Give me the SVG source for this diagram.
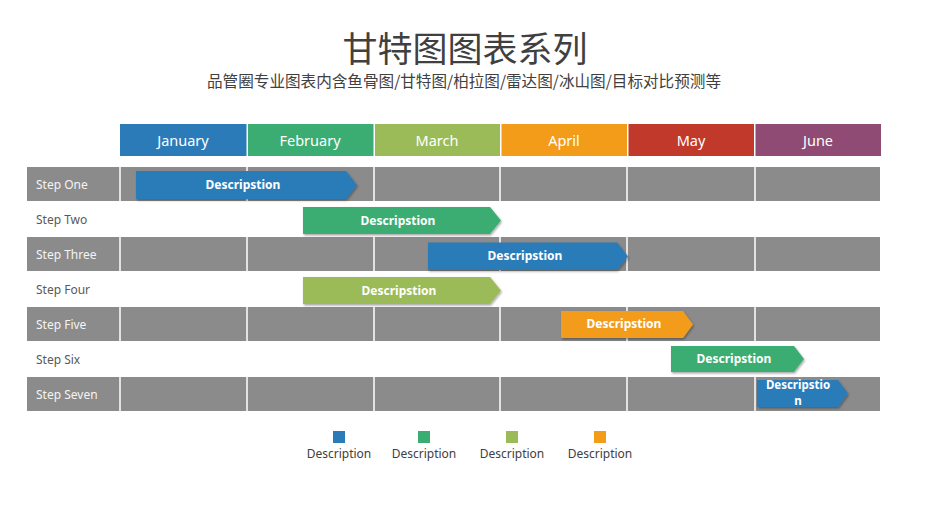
<svg xmlns="http://www.w3.org/2000/svg" width="933" height="525" viewBox="0 0 933 525">
<style>
.title{font-family:"Noto Sans CJK SC","Noto Sans",sans-serif;font-size:35px;fill:#404040;text-anchor:middle}
.sub{font-family:"Noto Sans CJK SC","Noto Sans",sans-serif;font-size:15.6px;fill:#404040;text-anchor:middle}
.mon{font-family:"Noto Sans","Open Sans",sans-serif;font-size:14.5px;fill:#ffffff;text-anchor:middle}
.row{fill:#8b8b8b}
.sep{stroke:#ffffff;stroke-width:1.5}
.lblG{font-family:"Noto Sans",sans-serif;font-size:12px;fill:#f4f4f4}
.lblW{font-family:"Noto Sans",sans-serif;font-size:12px;fill:#595959}
.bar{filter:url(#sh)}
.bt{font-family:"Noto Sans",sans-serif;font-weight:bold;font-size:12px;fill:#ffffff;text-anchor:middle}
.bt2{font-family:"Noto Sans",sans-serif;font-weight:bold;font-size:11.5px;fill:#ffffff;text-anchor:middle}
.leg{font-family:"Noto Sans",sans-serif;font-size:12px;fill:#404040;text-anchor:middle}
.blue{fill:#2b7bb9}.green{fill:#3bad72}.olive{fill:#9bbb59}.orange{fill:#f39c1a}.red{fill:#c0392b}.purple{fill:#8f4b73}
</style>
<defs>
<filter id="sh" x="-10%" y="-30%" width="120%" height="160%">
<feDropShadow dx="1" dy="1.5" stdDeviation="1.2" flood-color="#000" flood-opacity="0.35"/>
</filter>
</defs>
<g id="title">
<text class="title" x="465" y="62">甘特图图表系列</text>
<text class="sub" x="464" y="87">品管圈专业图表内含鱼骨图/甘特图/柏拉图/雷达图/冰山图/目标对比预测等</text>
</g>
<g id="months">
<rect class="blue" x="120" y="124" width="126.5" height="32"/>
<text class="mon" x="183" y="146">January</text>
<rect class="green" x="248" y="124" width="125.5" height="32"/>
<text class="mon" x="310" y="146">February</text>
<rect class="olive" x="375" y="124" width="125" height="32"/>
<text class="mon" x="437" y="146">March</text>
<rect class="orange" x="501.5" y="124" width="125.5" height="32"/>
<text class="mon" x="564" y="146">April</text>
<rect class="red" x="628.5" y="124" width="125.5" height="32"/>
<text class="mon" x="691" y="146">May</text>
<rect class="purple" x="755.5" y="124" width="125.5" height="32"/>
<text class="mon" x="818" y="146">June</text>
</g>
<g id="rows">
<rect class="row" x="27" y="167" width="853" height="34"/>
<rect class="row" x="27" y="237" width="853" height="34"/>
<rect class="row" x="27" y="307" width="853" height="34"/>
<rect class="row" x="27" y="377" width="853" height="34"/>
<g class="sep">
<line x1="120" y1="167" x2="120" y2="201"/><line x1="247" y1="167" x2="247" y2="201"/><line x1="374" y1="167" x2="374" y2="201"/><line x1="500" y1="167" x2="500" y2="201"/><line x1="627" y1="167" x2="627" y2="201"/><line x1="755" y1="167" x2="755" y2="201"/>
<line x1="120" y1="237" x2="120" y2="271"/><line x1="247" y1="237" x2="247" y2="271"/><line x1="374" y1="237" x2="374" y2="271"/><line x1="500" y1="237" x2="500" y2="271"/><line x1="627" y1="237" x2="627" y2="271"/><line x1="755" y1="237" x2="755" y2="271"/>
<line x1="120" y1="307" x2="120" y2="341"/><line x1="247" y1="307" x2="247" y2="341"/><line x1="374" y1="307" x2="374" y2="341"/><line x1="500" y1="307" x2="500" y2="341"/><line x1="627" y1="307" x2="627" y2="341"/><line x1="755" y1="307" x2="755" y2="341"/>
<line x1="120" y1="377" x2="120" y2="411"/><line x1="247" y1="377" x2="247" y2="411"/><line x1="374" y1="377" x2="374" y2="411"/><line x1="500" y1="377" x2="500" y2="411"/><line x1="627" y1="377" x2="627" y2="411"/><line x1="755" y1="377" x2="755" y2="411"/>
</g>
<text class="lblG" x="36" y="189">Step One</text>
<text class="lblW" x="36" y="224">Step Two</text>
<text class="lblG" x="36" y="259">Step Three</text>
<text class="lblW" x="36" y="294">Step Four</text>
<text class="lblG" x="36" y="329">Step Five</text>
<text class="lblW" x="36" y="364">Step Six</text>
<text class="lblG" x="36" y="399">Step Seven</text>
</g>
<g id="bar1">
<polygon class="bar blue" points="136,171 346,171 357,185 346,199 136,199"/>
<text class="bt" x="243" y="189">Descripstion</text>
</g>
<g id="bar2">
<polygon class="bar green" points="303,207 490,207 501,220.5 490,234 303,234"/>
<text class="bt" x="398" y="225">Descripstion</text>
</g>
<g id="bar3">
<polygon class="bar blue" points="428,242.5 617,242.5 628,256.5 617,270 428,270"/>
<text class="bt" x="525" y="260">Descripstion</text>
</g>
<g id="bar4">
<polygon class="bar olive" points="303,277 490,277 501,290.5 490,304 303,304"/>
<text class="bt" x="399" y="295">Descripstion</text>
</g>
<g id="bar5">
<polygon class="bar orange" points="561,311 683,311 693,324.5 683,338 561,338"/>
<text class="bt" x="624" y="328">Descripstion</text>
</g>
<g id="bar6">
<polygon class="bar green" points="671,346 794,346 804,359 794,372 671,372"/>
<text class="bt" x="734" y="363">Descripstion</text>
</g>
<g id="bar7">
<polygon class="bar blue" points="757,380 838,380 848,393.5 838,407 757,407"/>
<text class="bt2" x="798" y="389">Descripstio</text>
<text class="bt2" x="798" y="404.5">n</text>
</g>
<g id="legend">
<rect class="blue" x="333" y="431" width="12" height="12"/>
<text class="leg" x="339" y="458">Description</text>
<rect class="green" x="418" y="431" width="12" height="12"/>
<text class="leg" x="424" y="458">Description</text>
<rect class="olive" x="506" y="431" width="12" height="12"/>
<text class="leg" x="512" y="458">Description</text>
<rect class="orange" x="594" y="431" width="12" height="12"/>
<text class="leg" x="600" y="458">Description</text>
</g>
</svg>
